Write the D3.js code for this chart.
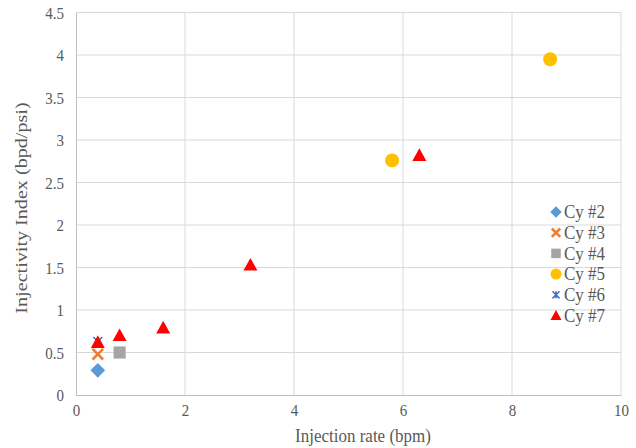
<!DOCTYPE html>
<html>
<head>
<meta charset="utf-8">
<script src="https://cdn.jsdelivr.net/npm/d3@7"></script>
<style>
  body { margin: 0; background: #fff; }
</style>
</head>
<body>
<div id="chart"></div>
<script>
// series names, colours and symbol kinds
var seriesNames = ["Cy #2", "Cy #3", "Cy #4", "Cy #5", "Cy #6", "Cy #7"];
var seriesColors = ["#5B9BD5", "#ED7D31", "#A5A5A5", "#FFC000", "#4472C4", "#FF0000"];
var seriesSymbols = ["diamond", "cross", "square", "circle", "asterisk", "triangle"];

// points per series: [injection rate, injectivity index]
var cy2 = [[0.4, 0.29]];
var cy3 = [[0.4, 0.48]];
var cy4 = [[0.8, 0.5]];
var cy5 = [[5.8, 2.76], [8.7, 3.95]];
var cy6 = [[0.4, 0.63]];
var cy7 = [[0.4, 0.62], [0.8, 0.7], [1.6, 0.79], [3.2, 1.53], [6.3, 2.82]];
var seriesData = [cy2, cy3, cy4, cy5, cy6, cy7];

var xTicks = [0, 2, 4, 6, 8, 10];
var yTicks = [0, 0.5, 1, 1.5, 2, 2.5, 3, 3.5, 4, 4.5];

var FONT = "'Liberation Serif', 'Times New Roman', serif";
var TEXT_COLOR = "#595959";
var STRETCH = 1.15; //source picture text is a bit taller than wide

var width = 636, height = 448;
var margin = {top: 12.5, right: 15, bottom: 53, left: 76};

var svg = d3.select("#chart").append("svg")
	.attr("width", width)
	.attr("height", height)
	.style("font-family", FONT);

var x = d3.scaleLinear().domain([0, 10]).range([margin.left, width - margin.right]);
var y = d3.scaleLinear().domain([0, 4.5]).range([height - margin.bottom, margin.top]);

//gridlines
svg.append("g").selectAll("line.v")
	.data(xTicks.slice(1))
	.enter().append("line")
	.attr("x1", function(d){ return x(d); })
	.attr("x2", function(d){ return x(d); })
	.attr("y1", y(0)).attr("y2", y(4.5))
	.style("stroke", "#D9D9D9").style("stroke-width", 1);

svg.append("g").selectAll("line.h")
	.data(yTicks.slice(1))
	.enter().append("line")
	.attr("y1", function(d){ return y(d); })
	.attr("y2", function(d){ return y(d); })
	.attr("x1", x(0)).attr("x2", x(10))
	.style("stroke", "#D9D9D9").style("stroke-width", 1);

//axes
var xAxis = svg.append("g")
	.attr("transform", "translate(0," + y(0) + ")")
	.call(d3.axisBottom(x).tickValues(xTicks).tickSize(0).tickPadding(10).tickFormat(d3.format("")));
var yAxis = svg.append("g")
	.attr("transform", "translate(" + x(0) + ",0)")
	.call(d3.axisLeft(y).tickValues(yTicks).tickSize(0).tickPadding(12).tickFormat(d3.format("")));

[xAxis, yAxis].forEach(function(a){
	a.attr("font-family", null).attr("font-size", null);
	a.select(".domain").style("stroke", "#BFBFBF");
	a.selectAll("text")
		.style("font-family", FONT)
		.style("font-size", "15px")
		.style("fill", TEXT_COLOR);
});

//stretch tick labels vertically around their centre
yAxis.selectAll("text").attr("transform", "scale(1," + STRETCH + ")");
xAxis.selectAll("text").attr("transform", "translate(0,16) scale(1," + STRETCH + ") translate(0,-16)");

//axis titles
svg.append("text")
	.attr("transform", "translate(363,436) scale(1," + STRETCH + ")")
	.attr("y", 5)
	.attr("text-anchor", "middle")
	.style("font-family", FONT)
	.style("font-size", "17px")
	.style("fill", TEXT_COLOR)
	.text("Injection rate (bpm)");

svg.append("text")
	.attr("transform", "translate(22,208) scale(1," + (STRETCH * 1.03) + ") rotate(-90)")
	.attr("y", 5)
	.attr("text-anchor", "middle")
	.style("font-family", FONT)
	.style("font-size", "17px")
	.style("fill", TEXT_COLOR)
	.text("Injectivity Index (bpd/psi)");

//symbol drawing
function drawSymbol(g, kind, color, size){
	var s = size;
	switch(kind){
		case "diamond":
			g.append("path").attr("d", d3.symbol().type(d3.symbolSquare).size(s*s*0.55)())
				.attr("transform", "rotate(45)").style("fill", color);
			break;
		case "square":
			g.append("path").attr("d", d3.symbol().type(d3.symbolSquare).size(s*s*0.75)())
				.style("fill", color);
			break;
		case "circle":
			g.append("circle").attr("r", s/2).style("fill", color);
			break;
		case "triangle":
			var h = s*0.5;
			g.append("path").attr("d", "M0," + (-h) + "L" + (h) + "," + (h*0.8) + "L" + (-h) + "," + (h*0.8) + "Z")
				.style("fill", color);
			break;
		case "cross":
			var c = s*0.38;
			g.append("path").attr("d", "M" + (-c) + "," + (-c) + "L" + c + "," + c + "M" + c + "," + (-c) + "L" + (-c) + "," + c)
				.style("stroke", color).style("stroke-width", 2.6).style("fill", "none");
			break;
		case "asterisk":
			var a = s*0.32;
			g.append("path").attr("d", "M" + (-a) + "," + (-a) + "L" + a + "," + a + "M" + a + "," + (-a) + "L" + (-a) + "," + a + "M0," + (-a) + "L0," + a)
				.style("stroke", color).style("stroke-width", 1.6).style("fill", "none");
			break;
	}
}

//points
seriesData.forEach(function(pts, i){
	var grp = svg.append("g").attr("class", "series s" + i);
	pts.forEach(function(p){
		var g = grp.append("g").attr("transform", "translate(" + x(p[0]) + "," + y(p[1]) + ")");
		drawSymbol(g, seriesSymbols[i], seriesColors[i], 14);
	});
});

//legend
var lgd = svg.selectAll(".entry")
	.data(seriesNames)
	.enter().append("g")
	.attr("class", "entry")
	.attr("transform", function(d, i){ return "translate(556," + (212 + i*20.7) + ")"; });

lgd.each(function(d, i){
	drawSymbol(d3.select(this), seriesSymbols[i], seriesColors[i], 11);
});

lgd.append("text")
	.attr("transform", "scale(1," + STRETCH + ")")
	.attr("x", 8)
	.attr("y", 5.5)
	.style("font-family", FONT)
	.style("font-size", "17px")
	.style("fill", TEXT_COLOR)
	.text(function(d){ return d; });
</script>
</body>
</html>
